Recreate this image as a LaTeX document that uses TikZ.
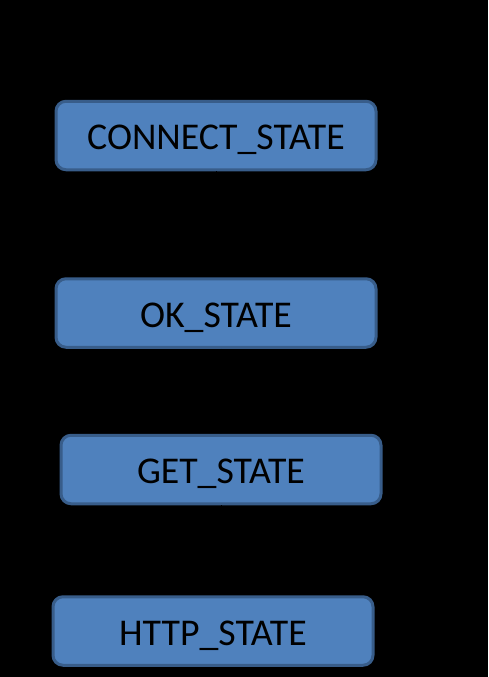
\documentclass[tikz,border=0pt]{standalone}
\usepackage{fontspec}
\setmainfont{Carlito}
\usetikzlibrary{positioning,arrows.meta}
\definecolor{cfill}{HTML}{4F81BD}
\definecolor{cedge}{HTML}{385D8A}
\tikzset{
  statebox/.style={rounded corners=10pt, draw=cedge, fill=cfill, line width=3pt,
    minimum width=320pt, minimum height=68.5pt, text height=31pt, text depth=2.6pt,
    font=\fontsize{37.8}{42}\selectfont, text=black},
  statearrow/.style={-Latex, thick, color=black}
}
\begin{document}
\begin{tikzpicture}[x=1pt, y=-1pt]
  \fill[black] (0,0) rectangle (488,677);
  \useasboundingbox (0,0) rectangle (488,677);

  \node[statebox] (connect) at (216,135.5) {CONNECT\_STATE};
  \node[statebox] (ok) at (216,313) {OK\_STATE};
  \node[statebox] (get) at (221,469.5) {GET\_STATE};
  \node[statebox] (http) at (213,631) {HTTP\_STATE};
  \coordinate (start) at (212,40);

  \draw[statearrow] (start) -- (start |- connect.north);
  \draw[statearrow] (connect) -- (ok);
  \draw[statearrow] (get.north |- ok.south) -- (get.north);
  \draw[statearrow] (get.south) -- (get.south |- http.north);
\end{tikzpicture}
\end{document}
